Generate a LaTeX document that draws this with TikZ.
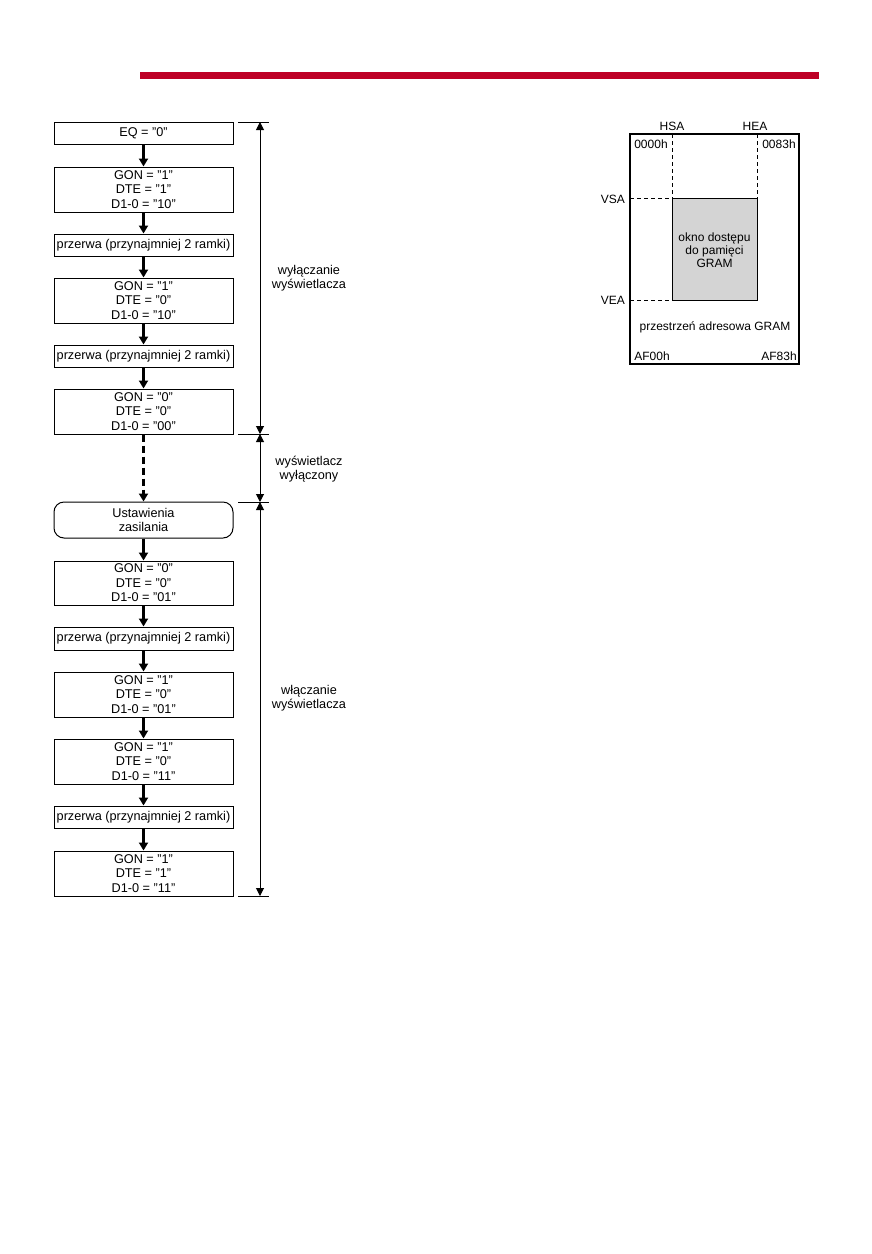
\documentclass[tikz,border=0pt]{standalone}
\usepackage{fontspec}
\setmainfont{Liberation Sans}
\usetikzlibrary{arrows.meta}
\definecolor{barred}{RGB}{190,0,38}
\definecolor{wingray}{RGB}{212,212,212}
\begin{document}
\begin{tikzpicture}[x=1pt,y=-1pt,
  font=\fontsize{12.7}{14.5}\selectfont,
  box/.style={draw, line width=1pt, minimum width=179pt, inner sep=0pt, align=center},
  rbox/.style={box, rounded corners=10pt},
  flow/.style={line width=2.2pt, -{Triangle[width=9pt,length=8pt]}},
  dflow/.style={flow, dash pattern=on 7pt off 4pt},
  brk/.style={line width=1pt, {Triangle[width=8pt,length=8pt]}-{Triangle[width=8pt,length=8pt]}},
  tick/.style={line width=1pt},
  lbl/.style={align=center, inner sep=0pt},
  glbl/.style={lbl, font=\fontsize{12}{13}\selectfont},
  dsh/.style={line width=1pt, dash pattern=on 4pt off 3pt}]
\useasboundingbox (0,0) rectangle (872,1254);
% red bar
\fill[barred] (140,72) rectangle (819,79);

% flowchart
\node[box, minimum height=22pt] (b1) at (143.5,133) {EQ = "0"};
\node[box, minimum height=45pt] (b2) at (143.5,189.5) {GON = "1"\\DTE = "1"\\D1-0 = "10"};
\node[box, minimum height=22pt] (b3) at (143.5,245) {przerwa (przynajmniej 2 ramki)};
\node[box, minimum height=45pt] (b4) at (143.5,300.5) {GON = "1"\\DTE = "0"\\D1-0 = "10"};
\node[box, minimum height=22pt] (b5) at (143.5,356) {przerwa (przynajmniej 2 ramki)};
\node[box, minimum height=45pt] (b6) at (143.5,411.5) {GON = "0"\\DTE = "0"\\D1-0 = "00"};
\node[rbox, minimum height=36pt] (b7) at (143.5,520) {Ustawienia\\zasilania};
\node[box, minimum height=44pt] (b8) at (143.5,583) {GON = "0"\\DTE = "0"\\D1-0 = "01"};
\node[box, minimum height=23pt] (b9) at (143.5,638.5) {przerwa (przynajmniej 2 ramki)};
\node[box, minimum height=45pt] (b10) at (143.5,694.5) {GON = "1"\\DTE = "0"\\D1-0 = "01"};
\node[box, minimum height=45pt] (b11) at (143.5,761.5) {GON = "1"\\DTE = "0"\\D1-0 = "11"};
\node[box, minimum height=22pt] (b12) at (143.5,817) {przerwa (przynajmniej 2 ramki)};
\node[box, minimum height=45pt] (b13) at (143.5,873.5) {GON = "1"\\DTE = "1"\\D1-0 = "11"};

\draw[flow] (b1) -- (b2);
\draw[flow] (b2) -- (b3);
\draw[flow] (b3) -- (b4);
\draw[flow] (b4) -- (b5);
\draw[flow] (b5) -- (b6);
\draw[dflow] (b6) -- (b7);
\draw[flow] (b7) -- (b8);
\draw[flow] (b8) -- (b9);
\draw[flow] (b9) -- (b10);
\draw[flow] (b10) -- (b11);
\draw[flow] (b11) -- (b12);
\draw[flow] (b12) -- (b13);

% brackets
\coordinate (kA) at (260,122);
\coordinate (kB) at (260,434);
\coordinate (kC) at (260,502);
\coordinate (kD) at (260,896);
\foreach \c in {kA,kB,kC,kD} {
  \draw[tick] ([xshift=-22pt]\c) -- ([xshift=9pt]\c);
}
\draw[brk] (kA) -- (kB);
\draw[brk] (kB) -- (kC);
\draw[brk] (kC) -- (kD);
\node[lbl] (l1) at (309,278) {wyłączanie\\wyświetlacza};
\node[lbl] (l2) at (309,469) {wyświetlacz\\wyłączony};
\node[lbl] (l3) at (309,698) {włączanie\\wyświetlacza};

% GRAM window
\draw[line width=2pt] (630,134) rectangle (799,363.5);
\draw[line width=1pt, fill=wingray] (672,198) rectangle (757,300);
\draw[dsh] (672,134) -- (672,198);
\draw[dsh] (757,134) -- (757,198);
\draw[dsh] (630,198) -- (672,198);
\draw[dsh] (630,300) -- (672,300);
\node[glbl] (hsa) at (672,126) {HSA};
\node[glbl] (hea) at (755,126) {HEA};
\node[glbl, anchor=east] (vsa) at (625,199) {VSA};
\node[glbl, anchor=east] (vea) at (625,300) {VEA};
\node[glbl] (c00) at (651,144) {0000h};
\node[glbl] (c83) at (779,144) {0083h};
\node[glbl] (cf00) at (652,356) {AF00h};
\node[glbl] (cf83) at (779,356) {AF83h};
\node[glbl] (win) at (714.5,250) {okno dostępu\\do pamięci\\GRAM};
\node[glbl] (space) at (715,327) {przestrzeń adresowa GRAM};
\end{tikzpicture}
\end{document}
